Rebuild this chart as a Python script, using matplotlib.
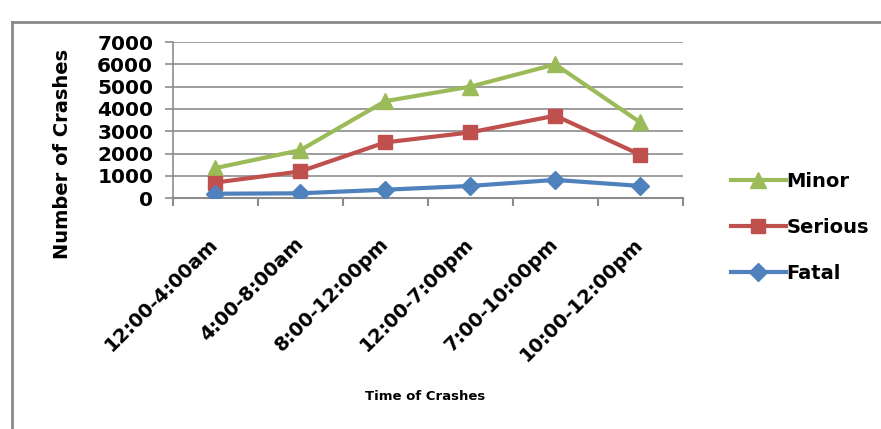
import matplotlib.pyplot as plt
from matplotlib.lines import Line2D

time_slots = ["12:00-4:00am", "4:00-8:00am", "8:00-12:00pm",
              "12:00-7:00pm", "7:00-10:00pm", "10:00-12:00pm"]
minor = [1350, 2150, 4350, 5000, 6000, 3400]
serious = [700, 1200, 2500, 2950, 3700, 1950]
fatal = [200, 220, 380, 550, 820, 550]

green = "#9BBB59"
red = "#C0504D"
blue = "#4F81BD"
grid_col = "#8c8c8c"

fig = plt.figure(figsize=(8.81, 4.29), dpi=100)
ax = fig.add_axes([0.196, 0.538, 0.579, 0.364])

x = list(range(len(time_slots)))
ax.plot(x, minor, color=green, lw=3, marker="^", ms=12, label="Minor", zorder=3)
ax.plot(x, serious, color=red, lw=3, marker="s", ms=10, label="Serious", zorder=4)
ax.plot(x, fatal, color=blue, lw=3, marker="D", ms=9, label="Fatal", zorder=5)

ax.set_xlim(-0.5, len(time_slots) - 0.5)
ax.set_ylim(0, 7000)
ax.set_yticks(range(0, 7001, 1000))
ax.yaxis.grid(True, color=grid_col, lw=1.2)
ax.set_axisbelow(True)

# category boundaries get the tick marks, centers get the labels
ax.set_xticks([i - 0.5 for i in range(len(time_slots) + 1)])
ax.set_xticklabels([])
ax.set_xticks(x, minor=True)
ax.set_xticklabels(time_slots, minor=True, rotation=45, ha="right",
                   va="center", rotation_mode="anchor", fontsize=14,
                   fontweight="bold")
ax.tick_params(axis="x", which="major", length=6, width=1.5, color=grid_col)
ax.tick_params(axis="x", which="minor", length=0, pad=31)
ax.tick_params(axis="y", length=6, width=1.2, color=grid_col, pad=8)
for lab in ax.get_yticklabels():
    lab.set_fontsize(14.5)
    lab.set_fontweight("bold")

for side in ["top", "right"]:
    ax.spines[side].set_visible(False)
ax.spines["left"].set_color(grid_col)
ax.spines["bottom"].set_color(grid_col)
ax.spines["left"].set_linewidth(1.2)
ax.spines["bottom"].set_linewidth(1.5)

fig.text(62 / 881, 1 - 154 / 429, "Number of Crashes", rotation=90,
         fontsize=14, fontweight="bold", ha="center", va="center")
fig.text(0.483, 0.075, "Time of Crashes", fontsize=9.5, fontweight="bold",
         ha="center", va="center")

handles = [
    Line2D([], [], color=green, lw=3, marker="^", ms=12),
    Line2D([], [], color=red, lw=3, marker="s", ms=10),
    Line2D([], [], color=blue, lw=3, marker="D", ms=9),
]
fig.legend(handles, ["Minor", "Serious", "Fatal"], loc="upper left",
           bbox_to_anchor=(0.81, 0.641), frameon=False,
           prop={"weight": "bold", "size": 14}, handlelength=2.8,
           handletextpad=0.05, labelspacing=1.4)

# outer chart border
fig.add_artist(Line2D([12 / 881, 1.0], [1 - 22 / 429, 1 - 22 / 429],
                      color="#8a8a8a", lw=2))
fig.add_artist(Line2D([12 / 881, 12 / 881], [1 - 22 / 429, 0.0],
                      color="#8a8a8a", lw=2))

fig.savefig("out.png", dpi=100)
